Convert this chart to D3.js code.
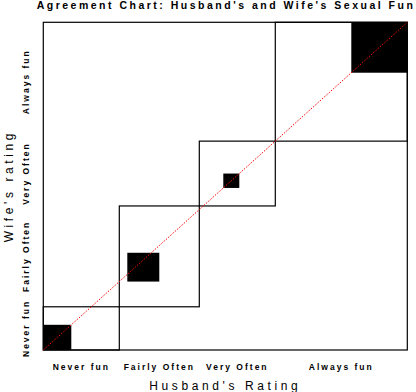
<!DOCTYPE html>
<html>
<head>
<meta charset="utf-8">
<script src="https://cdn.jsdelivr.net/npm/d3@7"></script>
<style>
  body { margin: 0; background: #fff; }
  svg { display: block; }
  text { font-family: "Liberation Sans", Arial, sans-serif; fill: #000; }
</style>
</head>
<body>
<script>
// categories (same for both raters)
var categories = ["Never fun", "Fairly Often", "Very Often", "Always fun"];

// counts for each husband rating, indexed by wife rating
var husNever   = [7, 7, 2, 3];
var husFairly  = [2, 8, 3, 7];
var husVery    = [1, 5, 4, 9];
var husAlways  = [2, 8, 9, 14];

var titleText = "Agreement Chart: Husband's and Wife's Sexual Fun";
var xTitle = "Husband's Rating";
var yTitle = "Wife's rating";

var table = [husNever, husFairly, husVery, husAlways];   // table[h][w]

var width = 416, height = 392;
var margins = {top: 22.3, left: 43.3, right: 8.7, bottom: 42};

var svg = d3.select("body").append("svg")
    .attr("width", width)
    .attr("height", height);

// marginals
var rowTot = table.map(function (r) { return d3.sum(r); });           // husband
var colTot = categories.map(function (c, j) {                           // wife
    return d3.sum(table, function (r) { return r[j]; });
});
var total = d3.sum(rowTot);
var xCum = [0].concat(Array.from(d3.cumsum(rowTot)));
var yCum = [0].concat(Array.from(d3.cumsum(colTot)));

var x = d3.scaleLinear().domain([0, total]).range([margins.left, width - margins.right]);
var y = d3.scaleLinear().domain([0, total]).range([height - margins.bottom, margins.top]);

// diagonal boxes of marginal totals
var boxes = categories.map(function (c, i) {
    return {x0: xCum[i], x1: xCum[i + 1], y0: yCum[i], y1: yCum[i + 1]};
});

svg.append("g").selectAll("rect")
    .data(boxes)
    .enter().append("rect")
    .attr("x", function (d) { return x(d.x0); })
    .attr("y", function (d) { return y(d.y1); })
    .attr("width", function (d) { return x(d.x1) - x(d.x0); })
    .attr("height", function (d) { return y(d.y0) - y(d.y1); })
    .attr("fill", "none")
    .attr("stroke", "#000")
    .attr("stroke-width", 1.2);

// outer frame
svg.append("rect")
    .attr("x", x(0)).attr("y", y(total))
    .attr("width", x(total) - x(0)).attr("height", y(0) - y(total))
    .attr("fill", "none").attr("stroke", "#000").attr("stroke-width", 1.2);

// agreement squares
var agree = categories.map(function (c, i) {
    var dx = 0, dy = 0;
    for (var k = 0; k < i; k++) {
        dx += table[i][k];
        dy += table[k][i];
    }
    return {x0: xCum[i] + dx, y0: yCum[i] + dy, n: table[i][i]};
});

svg.append("g").selectAll("rect")
    .data(agree)
    .enter().append("rect")
    .attr("x", function (d) { return x(d.x0); })
    .attr("y", function (d) { return y(d.y0 + d.n); })
    .attr("width", function (d) { return x(d.x0 + d.n) - x(d.x0); })
    .attr("height", function (d) { return y(d.y0) - y(d.y0 + d.n); })
    .attr("fill", "#000");

// diagonal reference line
svg.append("line")
    .attr("x1", x(0)).attr("y1", y(0))
    .attr("x2", x(total)).attr("y2", y(total))
    .attr("stroke", "#f00")
    .attr("stroke-width", 1)
    .attr("stroke-dasharray", "1.5,1.5");

// x category labels
svg.append("g").selectAll("text")
    .data(categories)
    .enter().append("text")
    .attr("x", function (d, i) { return x((xCum[i] + xCum[i + 1]) / 2); })
    .attr("y", 370)
    .attr("text-anchor", "middle")
    .attr("font-size", "8.5px")
    .attr("font-weight", "bold")
    .attr("letter-spacing", "2px")
    .text(function (d) { return d; });

// y category labels
svg.append("g").selectAll("text")
    .data(categories)
    .enter().append("text")
    .attr("transform", function (d, i) {
        return "translate(29," + y((yCum[i] + yCum[i + 1]) / 2) + ") rotate(-90)";
    })
    .attr("text-anchor", "middle")
    .attr("font-size", "8.5px")
    .attr("font-weight", "bold")
    .attr("letter-spacing", "2px")
    .text(function (d) { return d; });

// axis titles
svg.append("text")
    .attr("x", (x(0) + x(total)) / 2)
    .attr("y", 390)
    .attr("text-anchor", "middle")
    .attr("font-size", "12px")
    .attr("letter-spacing", "3.6px")
    .text(xTitle);

svg.append("text")
    .attr("transform", "translate(13," + (y(0) + y(total)) / 2 + ") rotate(-90)")
    .attr("text-anchor", "middle")
    .attr("font-size", "12px")
    .attr("letter-spacing", "3.6px")
    .text(yTitle);

// title
svg.append("text")
    .attr("x", 226)
    .attr("y", 8.5)
    .attr("text-anchor", "middle")
    .attr("font-size", "10.5px")
    .attr("font-weight", "bold")
    .attr("letter-spacing", "2.5px")
    .text(titleText);
</script>
</body>
</html>
